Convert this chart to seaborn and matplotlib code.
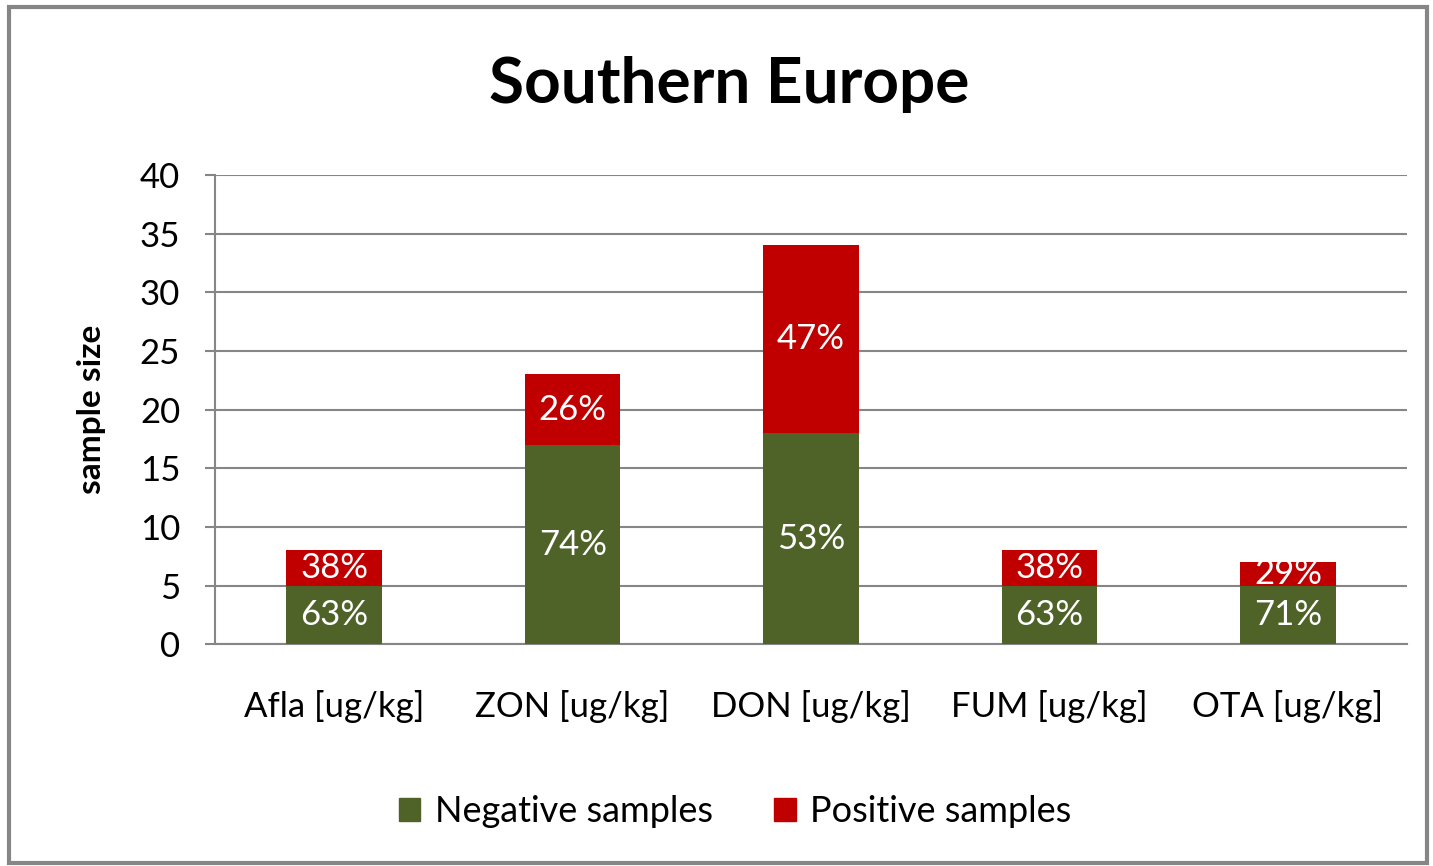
import matplotlib
matplotlib.use('Agg')
import matplotlib.pyplot as plt
import seaborn as sns
import numpy as np
from matplotlib.patches import Rectangle, Patch

# Data
categories = ['Afla [ug/kg]', 'ZON [ug/kg]', 'DON [ug/kg]', 'FUM [ug/kg]', 'OTA [ug/kg]']
negative = [5, 17, 18, 5, 5]
positive = [3, 6, 16, 3, 2]
neg_labels = ['63%', '74%', '53%', '63%', '71%']
pos_labels = ['38%', '26%', '47%', '38%', '29%']

green = '#4F6228'
red = '#C00000'
grey = '#868686'

sns.set_style('white')
plt.rcParams['font.family'] = ['Lato', 'DejaVu Sans']
plt.rcParams['text.color'] = 'black'
plt.rcParams['axes.labelcolor'] = 'black'
plt.rcParams['xtick.color'] = 'black'
plt.rcParams['ytick.color'] = 'black'

totals = [n + p for n, p in zip(negative, positive)]

fig = plt.figure(figsize=(14.33, 8.66), dpi=100)
ax = fig.add_axes([0.150, 0.256, 0.832, 0.542])

# stacked bars: totals in red, negatives in green on top of them
sns.barplot(x=categories, y=totals, color=red, saturation=1, width=0.4, ax=ax,
            linewidth=0, zorder=3)
sns.barplot(x=categories, y=negative, color=green, saturation=1, width=0.4, ax=ax,
            linewidth=0, zorder=4)

for i in range(len(categories)):
    ax.text(i, negative[i] / 2, neg_labels[i], ha='center', va='center',
            color='white', fontsize=25, zorder=5)
    ax.text(i, negative[i] + positive[i] / 2, pos_labels[i], ha='center', va='center',
            color='white', fontsize=25, zorder=5)

ax.set_ylim(0, 40)
ax.set_xlim(-0.5, len(categories) - 0.5)
ax.set_yticks(np.arange(0, 41, 5))
ax.yaxis.grid(True, color=grey, linewidth=1.5, zorder=0)
ax.set_axisbelow(True)

for s in ['top', 'right']:
    ax.spines[s].set_visible(False)
for s in ['left', 'bottom']:
    ax.spines[s].set_color(grey)
    ax.spines[s].set_linewidth(1.5)

# category separators as minor ticks
ax.set_xticks(np.arange(-0.5, len(categories), 1), minor=True)
ax.tick_params(axis='x', which='minor', length=10, width=1.5, color=grey, direction='out')
ax.tick_params(axis='x', which='major', length=0, labelsize=25, pad=33)
ax.tick_params(axis='y', which='major', length=7, width=1.5, color=grey, labelsize=25, pad=18,
               left=True)

ax.set_ylabel('sample size', fontsize=24, fontweight='bold', labelpad=24)
ax.set_xlabel('')

fig.text(0.509, 0.902, 'Southern Europe', ha='center', va='center',
         fontsize=46, fontweight='bold')

handles = [Patch(color=green, label='Negative samples'),
           Patch(color=red, label='Positive samples')]
fig.legend(handles=handles, loc='center', bbox_to_anchor=(0.513, 0.063), ncol=2,
           frameon=False, fontsize=26, handlelength=0.6, handleheight=0.6,
           handletextpad=0.4, columnspacing=1.7)

fig.patches.append(Rectangle((0.006, 0.004), 0.99, 0.988, transform=fig.transFigure,
                             fill=False, edgecolor=grey, linewidth=3))

fig.savefig('out.png', dpi=100)
